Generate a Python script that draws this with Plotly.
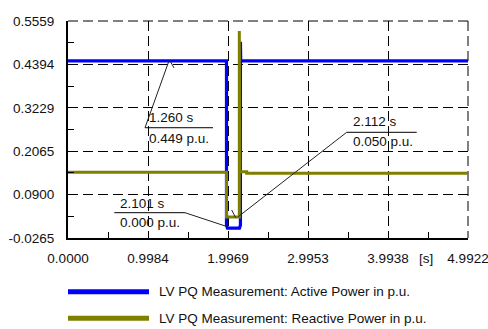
import plotly.graph_objects as go

# ---------------- data ----------------
x_ticks = [0.0, 0.9984, 1.9969, 2.9953, 3.9938, 4.9922]
x_labels = ["0.0000", "0.9984", "1.9969", "2.9953", "3.9938", "4.9922"]
y_ticks = [-0.0265, 0.0900, 0.2065, 0.3229, 0.4394, 0.5559]
y_labels = ["-0.0265", "0.0900", "0.2065", "0.3229", "0.4394", "0.5559"]

t_active = [0.0, 1.978, 1.978, 1.990, 2.140, 2.152, 2.152, 2.156, 2.165, 4.9922]
p_active = [0.449, 0.449, 0.008, 0.000, 0.000, 0.008, 0.500, 0.445, 0.449, 0.449]

t_reactive = [0.0, 1.978, 1.978, 2.138, 2.138, 2.145, 2.230, 2.230, 4.9922]
q_reactive = [0.150, 0.150, 0.030, 0.030, 0.529, 0.151, 0.151, 0.147, 0.147]

series_names = ["LV PQ Measurement: Active Power in p.u.",
                "LV PQ Measurement: Reactive Power in p.u."]

ann_top = ["1.260 s", "2.112 s", "2.101 s"]
ann_bottom = ["0.449 p.u.", "0.050 p.u.", "0.000 p.u."]

# ---------------- layout / styling ----------------
BLUE = "#0000ff"
OLIVE = "#808000"
FONT = "Liberation Sans, Arial, sans-serif"
FS = 13.5
TXT = "#111111"
DASH = "10px,5px"

# annotation geometry (data coords)
ann_geom = [
    dict(tx=0.986, ty1=0.2982, ty2=0.2419, ux0=0.961, ux1=1.810, uy=0.2695,
         lx=0.961, ex=1.260, ey=0.449, kx0=1.273, ky0=0.449, kx1=1.323, ky1=0.430),
    dict(tx=3.532, ty1=0.2875, ty2=0.2338, ux0=3.478, ux1=4.352, uy=0.2572,
         lx=3.478, ex=2.125, ey=0.0307, kx0=2.043, ky0=0.0486, kx1=2.093, ky1=0.028),
    dict(tx=0.624, ty1=0.0674, ty2=0.0164, ux0=0.578, ux1=1.460, uy=0.0414,
         lx=1.460, ex=1.981, ey=0.0044, kx0=None, ky0=None, kx1=None, ky1=None),
]

fig = go.Figure()
fig.add_trace(go.Scatter(x=t_active, y=p_active, mode="lines",
                         line=dict(color=BLUE, width=3.2), name=series_names[0],
                         showlegend=False))
fig.add_trace(go.Scatter(x=t_reactive, y=q_reactive, mode="lines",
                         line=dict(color=OLIVE, width=3), name=series_names[1],
                         showlegend=False))

shapes = [
    # dashed top and right frame lines (grid lines on the range edges)
    dict(type="line", xref="paper", yref="paper", x0=0, x1=1, y0=1, y1=1,
         layer="below", line=dict(color="black", width=1, dash=DASH)),
    dict(type="line", xref="paper", yref="paper", x0=1, x1=1, y0=1, y1=0,
         layer="below", line=dict(color="black", width=1, dash=DASH)),
]
annotations = []
for g, t1, t2 in zip(ann_geom, ann_top, ann_bottom):
    shapes.append(dict(type="line", xref="x", yref="y", x0=g["ux0"], x1=g["ux1"],
                       y0=g["uy"], y1=g["uy"], line=dict(color="black", width=1)))
    shapes.append(dict(type="line", xref="x", yref="y", x0=g["lx"], x1=g["ex"],
                       y0=g["uy"], y1=g["ey"], line=dict(color="#222222", width=1)))
    if g["kx0"] is not None:
        shapes.append(dict(type="line", xref="x", yref="y", x0=g["kx0"], x1=g["kx1"],
                           y0=g["ky0"], y1=g["ky1"], line=dict(color="#222222", width=1)))
    for txt, yy in ((t1, g["ty1"]), (t2, g["ty2"])):
        annotations.append(dict(x=g["tx"], y=yy, xref="x", yref="y", text=txt,
                                showarrow=False, xanchor="left", yanchor="middle",
                                font=dict(family=FONT, size=FS, color=TXT)))

# legend (manual)
leg_y = [-0.2475, -0.370]
for name, col, yy in zip(series_names, [BLUE, OLIVE], leg_y):
    shapes.append(dict(type="line", xref="paper", yref="paper", x0=0.0, x1=0.2025,
                       y0=yy, y1=yy, line=dict(color=col, width=5)))
    annotations.append(dict(x=0.222, y=yy, xref="paper", yref="paper", text=name,
                            showarrow=False, xanchor="left", yanchor="middle",
                            font=dict(family=FONT, size=FS, color=TXT)))

annotations.append(dict(x=0.895, y=-0.0922, xref="paper", yref="paper", text="[s]",
                        showarrow=False, xanchor="center", yanchor="middle",
                        font=dict(family=FONT, size=FS, color=TXT)))

x_minor = [(a + b) / 2 for a, b in zip(x_ticks[:-1], x_ticks[1:])]
y_minor = [(a + b) / 2 for a, b in zip(y_ticks[:-1], y_ticks[1:])]

axis_common = dict(showgrid=True, gridcolor="black", gridwidth=1, griddash=DASH,
                   showline=True, linecolor="black", linewidth=2, zeroline=False,
                   ticks="", tickmode="array", automargin=False,
                   ticklabeloverflow="allow",
                   tickfont=dict(family=FONT, size=FS, color=TXT))

fig.update_layout(
    width=488, height=329,
    margin=dict(l=68, r=20, t=21, b=91, autoexpand=False),
    paper_bgcolor="white", plot_bgcolor="white",
    xaxis=dict(range=[0, 4.99225], tickvals=x_ticks, ticktext=x_labels,
               ticklabelstandoff=7,
               minor=dict(tickmode="array", tickvals=x_minor, ticks="inside",
                          ticklen=6, tickwidth=1, tickcolor="black", showgrid=False),
               **axis_common),
    yaxis=dict(range=[-0.0265, 0.55595], tickvals=y_ticks, ticktext=y_labels,
               ticklabelstandoff=9,
               minor=dict(tickmode="array", tickvals=y_minor, ticks="inside",
                          ticklen=6, tickwidth=1, tickcolor="black", showgrid=False),
               **axis_common),
    shapes=shapes,
    annotations=annotations,
    showlegend=False,
)

fig.write_html("out.html")
